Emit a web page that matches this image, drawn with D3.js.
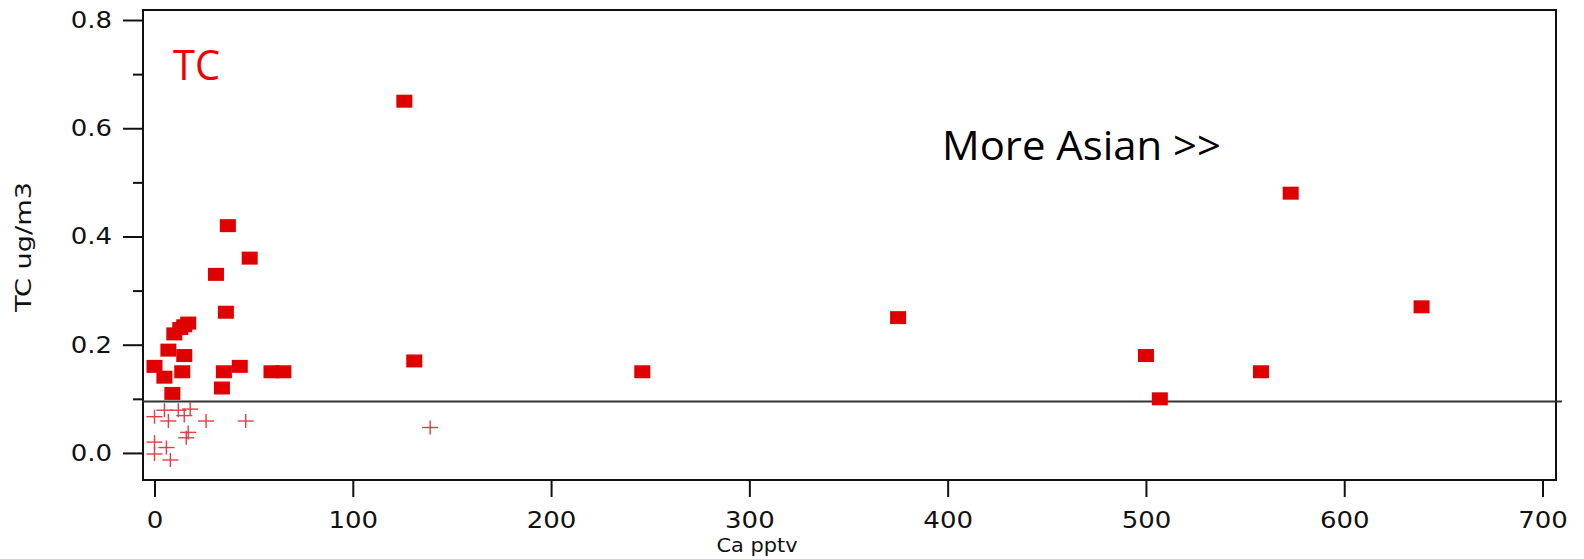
<!DOCTYPE html>
<html lang="en">
<head>
  <meta charset="utf-8">
  <title>TC vs Ca</title>
  <script type="text/javascript" src="https://cdn.jsdelivr.net/npm/d3@7"></script>
  <style type="text/css">
    body { margin: 0; background: #fff; }
    svg { display: block; }
  </style>
</head>
<body>
<div id="chart"></div>
<script type="text/javascript">

const w = 1584;
const h = 559;

// samples above the threshold (filled squares)
const caAbove = [0, 5, 7, 9, 10, 13, 15, 17, 15, 14, 31, 37, 48, 36, 35, 43, 34, 59, 65, 126, 131, 246, 375, 500, 507, 558, 573, 639];
const tcAbove = [0.16, 0.14, 0.19, 0.11, 0.22, 0.23, 0.235, 0.24, 0.18, 0.15, 0.33, 0.42, 0.36, 0.26, 0.15, 0.16, 0.12, 0.15, 0.15, 0.65, 0.17, 0.15, 0.25, 0.18, 0.10, 0.15, 0.48, 0.27];

// samples below the threshold (plus markers)
const caBelow = [0, 5, 7, 12, 15, 18, 26, 46, 17, 16, 0, 6, 0, 8, 139];
const tcBelow = [0.067, 0.079, 0.059, 0.079, 0.069, 0.081, 0.059, 0.059, 0.038, 0.028, 0.02, 0.01, -0.002, -0.013, 0.047];

const threshold = 0.095;
const xTicks = [0, 100, 200, 300, 400, 500, 600, 700];
const yTicks = [0, 0.2, 0.4, 0.6, 0.8];
const yMinor = [0.1, 0.3, 0.5, 0.7];

const x = d3.scaleLinear().domain([-5.8, 706.8]).range([143, 1556]);
const y = d3.scaleLinear().domain([-0.05, 0.8185]).range([480, 10]);

const svg = d3.select("#chart").append("svg")
    .attr("width", w)
    .attr("height", h);

// stretch text a bit wider, like the original picture
function widen(sel, k) {
  sel.each(function() {
    const len = this.getComputedTextLength();
    this.setAttribute("textLength", len * k);
    this.setAttribute("lengthAdjust", "spacingAndGlyphs");
  });
}

// axes
svg.append("g")
    .attr("transform", "translate(143,0)")
    .call(d3.axisLeft(y).tickValues(yTicks).tickSize(20).tickPadding(11).tickFormat(d3.format(".1f")));
svg.append("g")
    .attr("transform", "translate(143,0)")
    .call(d3.axisLeft(y).tickValues(yMinor).tickSize(10).tickFormat(""));

svg.append("g")
    .attr("transform", "translate(0,480)")
    .call(d3.axisBottom(x).tickValues(xTicks).tickSize(17).tickPadding(15));

svg.selectAll(".domain").remove();
svg.selectAll(".tick line").attr("stroke", "#111").attr("stroke-width", 2);
svg.selectAll(".tick text")
    .attr("font-family", "DejaVu Sans, Verdana, sans-serif")
    .attr("font-size", 23)
    .attr("fill", "#111")
    .call(widen, 1.13);

// frame
svg.append("rect")
    .attr("x", x.range()[0])
    .attr("y", y.range()[1])
    .attr("width", x.range()[1] - x.range()[0])
    .attr("height", y.range()[0] - y.range()[1])
    .attr("fill", "none")
    .attr("stroke", "#111")
    .attr("stroke-width", 2);

// threshold line
svg.append("line")
    .attr("x1", x.range()[0])
    .attr("x2", x.range()[1] + 6)
    .attr("y1", y(threshold))
    .attr("y2", y(threshold))
    .attr("stroke", "#333")
    .attr("stroke-width", 2);

// plus markers
const plus = svg.append("g")
    .attr("stroke", "#e83a44")
    .attr("stroke-width", 1.4);
caBelow.forEach((c, i) => {
  const px = x(c), py = y(tcBelow[i]);
  plus.append("line").attr("x1", px - 8).attr("x2", px + 8).attr("y1", py).attr("y2", py);
  plus.append("line").attr("x1", px).attr("x2", px).attr("y1", py - 7).attr("y2", py + 7);
});

// square markers
svg.append("g").selectAll("rect")
    .data(caAbove)
    .enter()
    .append("rect")
    .attr("x", d => x(d) - 8)
    .attr("y", (d, i) => y(tcAbove[i]) - 6.5)
    .attr("width", 16)
    .attr("height", 13)
    .attr("fill", "#e00000");

// axis titles
svg.append("text")
    .attr("x", 757)
    .attr("y", 552)
    .attr("text-anchor", "middle")
    .attr("font-family", "DejaVu Sans, Verdana, sans-serif")
    .attr("font-size", 19)
    .attr("fill", "#111")
    .text("Ca pptv")
    .call(widen, 1.1);

svg.append("text")
    .attr("transform", "translate(31,247) rotate(-90)")
    .attr("text-anchor", "middle")
    .attr("font-family", "DejaVu Sans, Verdana, sans-serif")
    .attr("font-size", 22)
    .attr("fill", "#111")
    .attr("textLength", 130)
    .attr("lengthAdjust", "spacingAndGlyphs")
    .text("TC  ug/m3");

// annotations
svg.append("text")
    .attr("x", 173)
    .attr("y", 80)
    .attr("font-family", "Open Sans, sans-serif")
    .attr("font-size", 42)
    .attr("fill", "#f00000")
    .attr("textLength", 47)
    .attr("lengthAdjust", "spacingAndGlyphs")
    .text("TC");

svg.append("text")
    .attr("x", 942)
    .attr("y", 160)
    .attr("font-family", "Open Sans, sans-serif")
    .attr("font-size", 41)
    .attr("fill", "#000")
    .attr("textLength", 279)
    .attr("lengthAdjust", "spacingAndGlyphs")
    .text("More Asian >>");

</script>
</body>
</html>
